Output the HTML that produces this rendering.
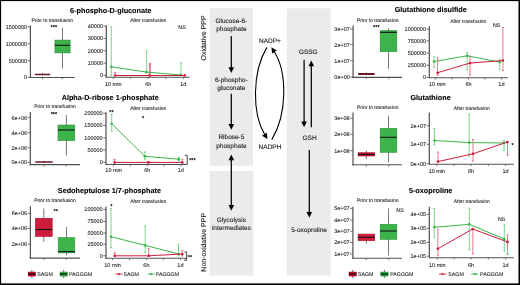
<!DOCTYPE html>
<html><head><meta charset="utf-8"><style>
html,body{margin:0;padding:0;background:#fff;width:520px;height:285px;overflow:hidden}
svg{display:block;will-change:transform}
text{font-family:"Liberation Sans", sans-serif;text-rendering:geometricPrecision}
</style></head><body>
<svg width="520" height="285" viewBox="0 0 520 285" font-family='"Liberation Sans", sans-serif'>
<rect width="520" height="285" fill="#fff"/>
<text x="70.10" y="12.57" font-size="7.25" text-anchor="start" font-weight="bold" fill="#000" stroke="#000" stroke-width="0.1" >6-phospho-D-gluconate</text>
<text x="52.20" y="21.96" font-size="4.95" text-anchor="middle" font-weight="normal" fill="#222" stroke="#222" stroke-width="0.08" >Prior to transfusion</text>
<text x="53.80" y="29.25" font-size="5.6" text-anchor="middle" fill="#111" stroke="#111" stroke-width="0.25">***</text>
<line x1="30.40" y1="25.50" x2="30.40" y2="78.10" stroke="#505050" stroke-width="1.2"/>
<line x1="27.60" y1="26.80" x2="30.40" y2="26.80" stroke="#505050" stroke-width="0.8"/>
<text x="27.10" y="28.75" font-size="5.50" text-anchor="end" font-weight="normal" fill="#1a1a1a" stroke="#1a1a1a" stroke-width="0.08" >1500000</text>
<line x1="27.60" y1="43.70" x2="30.40" y2="43.70" stroke="#505050" stroke-width="0.8"/>
<text x="27.10" y="45.65" font-size="5.50" text-anchor="end" font-weight="normal" fill="#1a1a1a" stroke="#1a1a1a" stroke-width="0.08" >1000000</text>
<line x1="27.60" y1="60.60" x2="30.40" y2="60.60" stroke="#505050" stroke-width="0.8"/>
<text x="27.10" y="62.55" font-size="5.50" text-anchor="end" font-weight="normal" fill="#1a1a1a" stroke="#1a1a1a" stroke-width="0.08" >500000</text>
<line x1="27.60" y1="77.40" x2="30.40" y2="77.40" stroke="#505050" stroke-width="0.8"/>
<text x="27.10" y="79.35" font-size="5.50" text-anchor="end" font-weight="normal" fill="#1a1a1a" stroke="#1a1a1a" stroke-width="0.08" >0</text>
<line x1="29.80" y1="77.50" x2="74.70" y2="77.50" stroke="#505050" stroke-width="1.1"/>
<line x1="42.50" y1="77.50" x2="42.50" y2="79.30" stroke="#505050" stroke-width="0.8"/>
<line x1="62.30" y1="77.50" x2="62.30" y2="79.30" stroke="#505050" stroke-width="0.8"/>
<line x1="42.50" y1="73.00" x2="42.50" y2="75.20" stroke="#555" stroke-width="0.8"/>
<rect x="34.80" y="73.70" width="15.40" height="1.50" rx="0.5" fill="#6e1426"/>
<line x1="62.50" y1="27.80" x2="62.50" y2="68.60" stroke="#555" stroke-width="0.8"/>
<rect x="54.90" y="40.10" width="15.20" height="12.80" fill="#3cb44b" stroke="#2a8f37" stroke-width="0.6"/>
<line x1="54.90" y1="45.30" x2="70.10" y2="45.30" stroke="#111" stroke-width="1.1"/>
<text x="148.30" y="22.46" font-size="4.95" text-anchor="middle" font-weight="normal" fill="#222" stroke="#222" stroke-width="0.08" >After transfusion</text>
<text x="182.00" y="28.68" font-size="5.30" text-anchor="middle" font-weight="normal" fill="#222" stroke="#222" stroke-width="0.08" >NS</text>
<line x1="106.30" y1="25.20" x2="106.30" y2="77.90" stroke="#505050" stroke-width="1.2"/>
<line x1="103.50" y1="26.20" x2="106.30" y2="26.20" stroke="#505050" stroke-width="0.8"/>
<text x="103.00" y="28.15" font-size="5.50" text-anchor="end" font-weight="normal" fill="#1a1a1a" stroke="#1a1a1a" stroke-width="0.08" >40000</text>
<line x1="103.50" y1="38.50" x2="106.30" y2="38.50" stroke="#505050" stroke-width="0.8"/>
<text x="103.00" y="40.45" font-size="5.50" text-anchor="end" font-weight="normal" fill="#1a1a1a" stroke="#1a1a1a" stroke-width="0.08" >30000</text>
<line x1="103.50" y1="50.80" x2="106.30" y2="50.80" stroke="#505050" stroke-width="0.8"/>
<text x="103.00" y="52.75" font-size="5.50" text-anchor="end" font-weight="normal" fill="#1a1a1a" stroke="#1a1a1a" stroke-width="0.08" >20000</text>
<line x1="103.50" y1="63.10" x2="106.30" y2="63.10" stroke="#505050" stroke-width="0.8"/>
<text x="103.00" y="65.05" font-size="5.50" text-anchor="end" font-weight="normal" fill="#1a1a1a" stroke="#1a1a1a" stroke-width="0.08" >10000</text>
<line x1="103.50" y1="75.40" x2="106.30" y2="75.40" stroke="#505050" stroke-width="0.8"/>
<text x="103.00" y="77.35" font-size="5.50" text-anchor="end" font-weight="normal" fill="#1a1a1a" stroke="#1a1a1a" stroke-width="0.08" >0</text>
<line x1="105.70" y1="77.30" x2="189.60" y2="77.30" stroke="#505050" stroke-width="1.1"/>
<line x1="113.20" y1="77.30" x2="113.20" y2="79.10" stroke="#505050" stroke-width="0.8"/>
<line x1="130.70" y1="77.30" x2="130.70" y2="79.10" stroke="#505050" stroke-width="0.8"/>
<line x1="148.20" y1="77.30" x2="148.20" y2="79.10" stroke="#505050" stroke-width="0.8"/>
<line x1="165.70" y1="77.30" x2="165.70" y2="79.10" stroke="#505050" stroke-width="0.8"/>
<line x1="183.20" y1="77.30" x2="183.20" y2="79.10" stroke="#505050" stroke-width="0.8"/>
<text x="113.20" y="86.05" font-size="5.50" text-anchor="middle" font-weight="normal" fill="#222" stroke="#222" stroke-width="0.08" >10 min</text>
<text x="148.20" y="86.05" font-size="5.50" text-anchor="middle" font-weight="normal" fill="#222" stroke="#222" stroke-width="0.08" >6h</text>
<text x="183.20" y="86.05" font-size="5.50" text-anchor="middle" font-weight="normal" fill="#222" stroke="#222" stroke-width="0.08" >1d</text>
<line x1="111.30" y1="26.80" x2="111.30" y2="75.60" stroke="#4cc35a" stroke-width="0.7"/>
<line x1="110.30" y1="26.80" x2="112.30" y2="26.80" stroke="#4cc35a" stroke-width="0.7"/>
<line x1="110.30" y1="75.60" x2="112.30" y2="75.60" stroke="#4cc35a" stroke-width="0.7"/>
<line x1="146.60" y1="51.00" x2="146.60" y2="72.10" stroke="#4cc35a" stroke-width="0.7"/>
<line x1="145.60" y1="51.00" x2="147.60" y2="51.00" stroke="#4cc35a" stroke-width="0.7"/>
<line x1="145.60" y1="72.10" x2="147.60" y2="72.10" stroke="#4cc35a" stroke-width="0.7"/>
<line x1="181.00" y1="62.90" x2="181.00" y2="75.20" stroke="#4cc35a" stroke-width="0.7"/>
<line x1="180.00" y1="62.90" x2="182.00" y2="62.90" stroke="#4cc35a" stroke-width="0.7"/>
<line x1="180.00" y1="75.20" x2="182.00" y2="75.20" stroke="#4cc35a" stroke-width="0.7"/>
<line x1="115.20" y1="72.40" x2="115.20" y2="75.50" stroke="#dc3d5c" stroke-width="0.7"/>
<line x1="114.20" y1="72.40" x2="116.20" y2="72.40" stroke="#dc3d5c" stroke-width="0.7"/>
<line x1="114.20" y1="75.50" x2="116.20" y2="75.50" stroke="#dc3d5c" stroke-width="0.7"/>
<line x1="149.90" y1="64.00" x2="149.90" y2="75.50" stroke="#e3798f" stroke-width="1.9"/>
<line x1="148.70" y1="64.00" x2="151.10" y2="64.00" stroke="#e3798f" stroke-width="1.9"/>
<line x1="148.70" y1="75.50" x2="151.10" y2="75.50" stroke="#e3798f" stroke-width="1.9"/>
<line x1="184.70" y1="74.30" x2="184.70" y2="75.50" stroke="#dc3d5c" stroke-width="0.7"/>
<line x1="183.70" y1="74.30" x2="185.70" y2="74.30" stroke="#dc3d5c" stroke-width="0.7"/>
<line x1="183.70" y1="75.50" x2="185.70" y2="75.50" stroke="#dc3d5c" stroke-width="0.7"/>
<polyline points="111.30,66.80 146.60,72.10 181.00,75.00" fill="none" stroke="#3cb44b" stroke-width="1.0"/>
<circle cx="111.30" cy="66.80" r="1.3" fill="#3cb44b"/>
<circle cx="146.60" cy="72.10" r="1.3" fill="#3cb44b"/>
<circle cx="181.00" cy="75.00" r="1.3" fill="#3cb44b"/>
<polyline points="115.20,75.50 149.50,75.50 184.70,75.50" fill="none" stroke="#d01c3c" stroke-width="1.0"/>
<circle cx="115.20" cy="75.50" r="1.3" fill="#d01c3c"/>
<circle cx="149.50" cy="75.50" r="1.3" fill="#d01c3c"/>
<circle cx="184.70" cy="75.50" r="1.3" fill="#d01c3c"/>
<text x="61.70" y="100.37" font-size="7.25" text-anchor="start" font-weight="bold" fill="#000" stroke="#000" stroke-width="0.1" >Alpha-D-ribose 1-phosphate</text>
<text x="55.00" y="108.46" font-size="4.95" text-anchor="middle" font-weight="normal" fill="#222" stroke="#222" stroke-width="0.08" >Prior to transfusion</text>
<text x="53.90" y="116.25" font-size="5.6" text-anchor="middle" fill="#111" stroke="#111" stroke-width="0.25">***</text>
<line x1="30.30" y1="111.90" x2="30.30" y2="165.20" stroke="#505050" stroke-width="1.2"/>
<line x1="27.50" y1="117.60" x2="30.30" y2="117.60" stroke="#505050" stroke-width="0.8"/>
<text x="27.00" y="119.55" font-size="5.50" text-anchor="end" font-weight="normal" fill="#1a1a1a" stroke="#1a1a1a" stroke-width="0.08" >6e+06</text>
<line x1="27.50" y1="132.70" x2="30.30" y2="132.70" stroke="#505050" stroke-width="0.8"/>
<text x="27.00" y="134.65" font-size="5.50" text-anchor="end" font-weight="normal" fill="#1a1a1a" stroke="#1a1a1a" stroke-width="0.08" >4e+06</text>
<line x1="27.50" y1="147.70" x2="30.30" y2="147.70" stroke="#505050" stroke-width="0.8"/>
<text x="27.00" y="149.65" font-size="5.50" text-anchor="end" font-weight="normal" fill="#1a1a1a" stroke="#1a1a1a" stroke-width="0.08" >2e+06</text>
<line x1="27.50" y1="162.40" x2="30.30" y2="162.40" stroke="#505050" stroke-width="0.8"/>
<text x="27.00" y="164.35" font-size="5.50" text-anchor="end" font-weight="normal" fill="#1a1a1a" stroke="#1a1a1a" stroke-width="0.08" >0e+00</text>
<line x1="29.70" y1="164.60" x2="80.00" y2="164.60" stroke="#505050" stroke-width="1.1"/>
<line x1="43.75" y1="164.60" x2="43.75" y2="166.40" stroke="#505050" stroke-width="0.8"/>
<line x1="66.25" y1="164.60" x2="66.25" y2="166.40" stroke="#505050" stroke-width="0.8"/>
<line x1="44.00" y1="160.80" x2="44.00" y2="163.20" stroke="#555" stroke-width="0.8"/>
<rect x="35.20" y="161.20" width="17.60" height="1.60" rx="0.5" fill="#6e1426"/>
<line x1="66.40" y1="115.00" x2="66.40" y2="155.60" stroke="#555" stroke-width="0.8"/>
<rect x="58.00" y="125.00" width="16.80" height="15.60" fill="#3cb44b" stroke="#2a8f37" stroke-width="0.6"/>
<line x1="58.00" y1="130.00" x2="74.80" y2="130.00" stroke="#111" stroke-width="1.1"/>
<text x="148.30" y="109.96" font-size="4.95" text-anchor="middle" font-weight="normal" fill="#222" stroke="#222" stroke-width="0.08" >After transfusion</text>
<text x="111.50" y="113.85" font-size="5.6" text-anchor="middle" fill="#111" stroke="#111" stroke-width="0.25">**</text>
<text x="143.10" y="119.85" font-size="5.6" text-anchor="middle" fill="#111" stroke="#111" stroke-width="0.25">*</text>
<line x1="106.00" y1="112.20" x2="106.00" y2="165.10" stroke="#505050" stroke-width="1.2"/>
<line x1="103.20" y1="113.30" x2="106.00" y2="113.30" stroke="#505050" stroke-width="0.8"/>
<text x="102.70" y="115.25" font-size="5.50" text-anchor="end" font-weight="normal" fill="#1a1a1a" stroke="#1a1a1a" stroke-width="0.08" >200000</text>
<line x1="103.20" y1="125.50" x2="106.00" y2="125.50" stroke="#505050" stroke-width="0.8"/>
<text x="102.70" y="127.45" font-size="5.50" text-anchor="end" font-weight="normal" fill="#1a1a1a" stroke="#1a1a1a" stroke-width="0.08" >150000</text>
<line x1="103.20" y1="137.80" x2="106.00" y2="137.80" stroke="#505050" stroke-width="0.8"/>
<text x="102.70" y="139.75" font-size="5.50" text-anchor="end" font-weight="normal" fill="#1a1a1a" stroke="#1a1a1a" stroke-width="0.08" >100000</text>
<line x1="103.20" y1="150.00" x2="106.00" y2="150.00" stroke="#505050" stroke-width="0.8"/>
<text x="102.70" y="151.95" font-size="5.50" text-anchor="end" font-weight="normal" fill="#1a1a1a" stroke="#1a1a1a" stroke-width="0.08" >50000</text>
<line x1="103.20" y1="162.30" x2="106.00" y2="162.30" stroke="#505050" stroke-width="0.8"/>
<text x="102.70" y="164.25" font-size="5.50" text-anchor="end" font-weight="normal" fill="#1a1a1a" stroke="#1a1a1a" stroke-width="0.08" >0</text>
<line x1="105.40" y1="164.50" x2="185.60" y2="164.50" stroke="#505050" stroke-width="1.1"/>
<line x1="113.60" y1="164.50" x2="113.60" y2="166.30" stroke="#505050" stroke-width="0.8"/>
<line x1="130.40" y1="164.50" x2="130.40" y2="166.30" stroke="#505050" stroke-width="0.8"/>
<line x1="147.20" y1="164.50" x2="147.20" y2="166.30" stroke="#505050" stroke-width="0.8"/>
<line x1="164.00" y1="164.50" x2="164.00" y2="166.30" stroke="#505050" stroke-width="0.8"/>
<line x1="180.80" y1="164.50" x2="180.80" y2="166.30" stroke="#505050" stroke-width="0.8"/>
<text x="113.60" y="172.45" font-size="5.50" text-anchor="middle" font-weight="normal" fill="#222" stroke="#222" stroke-width="0.08" >10 min</text>
<text x="147.20" y="172.45" font-size="5.50" text-anchor="middle" font-weight="normal" fill="#222" stroke="#222" stroke-width="0.08" >6h</text>
<text x="180.80" y="172.45" font-size="5.50" text-anchor="middle" font-weight="normal" fill="#222" stroke="#222" stroke-width="0.08" >1d</text>
<line x1="111.70" y1="114.30" x2="111.70" y2="131.10" stroke="#4cc35a" stroke-width="0.7"/>
<line x1="110.70" y1="114.30" x2="112.70" y2="114.30" stroke="#4cc35a" stroke-width="0.7"/>
<line x1="110.70" y1="131.10" x2="112.70" y2="131.10" stroke="#4cc35a" stroke-width="0.7"/>
<line x1="144.90" y1="151.90" x2="144.90" y2="159.20" stroke="#4cc35a" stroke-width="0.7"/>
<line x1="143.90" y1="151.90" x2="145.90" y2="151.90" stroke="#4cc35a" stroke-width="0.7"/>
<line x1="143.90" y1="159.20" x2="145.90" y2="159.20" stroke="#4cc35a" stroke-width="0.7"/>
<line x1="178.80" y1="157.50" x2="178.80" y2="161.00" stroke="#4cc35a" stroke-width="0.7"/>
<line x1="177.80" y1="157.50" x2="179.80" y2="157.50" stroke="#4cc35a" stroke-width="0.7"/>
<line x1="177.80" y1="161.00" x2="179.80" y2="161.00" stroke="#4cc35a" stroke-width="0.7"/>
<line x1="114.60" y1="159.40" x2="114.60" y2="163.00" stroke="#dc3d5c" stroke-width="0.7"/>
<line x1="113.60" y1="159.40" x2="115.60" y2="159.40" stroke="#dc3d5c" stroke-width="0.7"/>
<line x1="113.60" y1="163.00" x2="115.60" y2="163.00" stroke="#dc3d5c" stroke-width="0.7"/>
<line x1="148.50" y1="161.50" x2="148.50" y2="163.00" stroke="#dc3d5c" stroke-width="0.7"/>
<line x1="147.50" y1="161.50" x2="149.50" y2="161.50" stroke="#dc3d5c" stroke-width="0.7"/>
<line x1="147.50" y1="163.00" x2="149.50" y2="163.00" stroke="#dc3d5c" stroke-width="0.7"/>
<line x1="182.30" y1="159.50" x2="182.30" y2="163.00" stroke="#dc3d5c" stroke-width="0.7"/>
<line x1="181.30" y1="159.50" x2="183.30" y2="159.50" stroke="#dc3d5c" stroke-width="0.7"/>
<line x1="181.30" y1="163.00" x2="183.30" y2="163.00" stroke="#dc3d5c" stroke-width="0.7"/>
<polyline points="111.70,123.80 144.90,156.30 178.80,159.20" fill="none" stroke="#3cb44b" stroke-width="1.0"/>
<circle cx="111.70" cy="123.80" r="1.3" fill="#3cb44b"/>
<circle cx="144.90" cy="156.30" r="1.3" fill="#3cb44b"/>
<circle cx="178.80" cy="159.20" r="1.3" fill="#3cb44b"/>
<polyline points="114.60,162.40 148.50,162.40 182.30,162.40" fill="none" stroke="#d01c3c" stroke-width="1.0"/>
<circle cx="114.60" cy="162.40" r="1.3" fill="#d01c3c"/>
<circle cx="148.50" cy="162.40" r="1.3" fill="#d01c3c"/>
<circle cx="182.30" cy="162.40" r="1.3" fill="#d01c3c"/>
<polyline points="184.9,155.3 187.2,155.3 187.2,164.4 185.0,164.4" fill="none" stroke="#333" stroke-width="0.9"/>
<text x="192.40" y="162.05" font-size="5.6" text-anchor="middle" fill="#111" stroke="#111" stroke-width="0.25">***</text>
<text x="57.80" y="193.27" font-size="7.25" text-anchor="start" font-weight="bold" fill="#000" stroke="#000" stroke-width="0.1" >Sedoheptulose 1/7-phosphate</text>
<text x="55.00" y="202.36" font-size="4.95" text-anchor="middle" font-weight="normal" fill="#222" stroke="#222" stroke-width="0.08" >Prior to transfusion</text>
<text x="55.80" y="212.55" font-size="5.6" text-anchor="middle" fill="#111" stroke="#111" stroke-width="0.25">**</text>
<line x1="30.40" y1="206.20" x2="30.40" y2="258.70" stroke="#505050" stroke-width="1.2"/>
<line x1="27.60" y1="213.30" x2="30.40" y2="213.30" stroke="#505050" stroke-width="0.8"/>
<text x="27.10" y="215.25" font-size="5.50" text-anchor="end" font-weight="normal" fill="#1a1a1a" stroke="#1a1a1a" stroke-width="0.08" >6e+06</text>
<line x1="27.60" y1="228.50" x2="30.40" y2="228.50" stroke="#505050" stroke-width="0.8"/>
<text x="27.10" y="230.45" font-size="5.50" text-anchor="end" font-weight="normal" fill="#1a1a1a" stroke="#1a1a1a" stroke-width="0.08" >4e+06</text>
<line x1="27.60" y1="244.10" x2="30.40" y2="244.10" stroke="#505050" stroke-width="0.8"/>
<text x="27.10" y="246.05" font-size="5.50" text-anchor="end" font-weight="normal" fill="#1a1a1a" stroke="#1a1a1a" stroke-width="0.08" >2e+06</text>
<line x1="29.70" y1="258.10" x2="80.00" y2="258.10" stroke="#505050" stroke-width="1.1"/>
<line x1="43.75" y1="258.10" x2="43.75" y2="259.90" stroke="#505050" stroke-width="0.8"/>
<line x1="66.25" y1="258.10" x2="66.25" y2="259.90" stroke="#505050" stroke-width="0.8"/>
<line x1="43.80" y1="208.40" x2="43.80" y2="241.80" stroke="#555" stroke-width="0.8"/>
<rect x="35.40" y="218.30" width="16.80" height="18.20" fill="#d01c3c" stroke="#a80f2b" stroke-width="0.6"/>
<line x1="35.40" y1="229.50" x2="52.20" y2="229.50" stroke="#111" stroke-width="1.1"/>
<line x1="66.50" y1="227.00" x2="66.50" y2="255.00" stroke="#555" stroke-width="0.8"/>
<rect x="58.20" y="237.70" width="16.60" height="15.20" fill="#3cb44b" stroke="#2a8f37" stroke-width="0.6"/>
<line x1="58.20" y1="251.60" x2="74.80" y2="251.60" stroke="#111" stroke-width="1.1"/>
<text x="148.30" y="203.36" font-size="4.95" text-anchor="middle" font-weight="normal" fill="#222" stroke="#222" stroke-width="0.08" >After transfusion</text>
<text x="111.40" y="208.05" font-size="5.6" text-anchor="middle" fill="#111" stroke="#111" stroke-width="0.25">*</text>
<line x1="106.00" y1="206.50" x2="106.00" y2="258.90" stroke="#505050" stroke-width="1.2"/>
<line x1="103.20" y1="209.40" x2="106.00" y2="209.40" stroke="#505050" stroke-width="0.8"/>
<text x="102.70" y="211.35" font-size="5.50" text-anchor="end" font-weight="normal" fill="#1a1a1a" stroke="#1a1a1a" stroke-width="0.08" >100000</text>
<line x1="103.20" y1="221.50" x2="106.00" y2="221.50" stroke="#505050" stroke-width="0.8"/>
<text x="102.70" y="223.45" font-size="5.50" text-anchor="end" font-weight="normal" fill="#1a1a1a" stroke="#1a1a1a" stroke-width="0.08" >75000</text>
<line x1="103.20" y1="233.00" x2="106.00" y2="233.00" stroke="#505050" stroke-width="0.8"/>
<text x="102.70" y="234.95" font-size="5.50" text-anchor="end" font-weight="normal" fill="#1a1a1a" stroke="#1a1a1a" stroke-width="0.08" >50000</text>
<line x1="103.20" y1="244.30" x2="106.00" y2="244.30" stroke="#505050" stroke-width="0.8"/>
<text x="102.70" y="246.25" font-size="5.50" text-anchor="end" font-weight="normal" fill="#1a1a1a" stroke="#1a1a1a" stroke-width="0.08" >25000</text>
<line x1="103.20" y1="255.80" x2="106.00" y2="255.80" stroke="#505050" stroke-width="0.8"/>
<text x="102.70" y="257.75" font-size="5.50" text-anchor="end" font-weight="normal" fill="#1a1a1a" stroke="#1a1a1a" stroke-width="0.08" >0</text>
<line x1="105.40" y1="258.30" x2="187.20" y2="258.30" stroke="#505050" stroke-width="1.1"/>
<line x1="112.50" y1="258.30" x2="112.50" y2="260.10" stroke="#505050" stroke-width="0.8"/>
<line x1="129.50" y1="258.30" x2="129.50" y2="260.10" stroke="#505050" stroke-width="0.8"/>
<line x1="146.40" y1="258.30" x2="146.40" y2="260.10" stroke="#505050" stroke-width="0.8"/>
<line x1="163.40" y1="258.30" x2="163.40" y2="260.10" stroke="#505050" stroke-width="0.8"/>
<line x1="180.40" y1="258.30" x2="180.40" y2="260.10" stroke="#505050" stroke-width="0.8"/>
<text x="112.50" y="266.55" font-size="5.50" text-anchor="middle" font-weight="normal" fill="#222" stroke="#222" stroke-width="0.08" >10 min</text>
<text x="146.40" y="266.55" font-size="5.50" text-anchor="middle" font-weight="normal" fill="#222" stroke="#222" stroke-width="0.08" >6h</text>
<text x="180.40" y="266.55" font-size="5.50" text-anchor="middle" font-weight="normal" fill="#222" stroke="#222" stroke-width="0.08" >1d</text>
<line x1="111.00" y1="208.30" x2="111.00" y2="247.70" stroke="#4cc35a" stroke-width="0.7"/>
<line x1="110.00" y1="208.30" x2="112.00" y2="208.30" stroke="#4cc35a" stroke-width="0.7"/>
<line x1="110.00" y1="247.70" x2="112.00" y2="247.70" stroke="#4cc35a" stroke-width="0.7"/>
<line x1="145.20" y1="226.00" x2="145.20" y2="252.50" stroke="#4cc35a" stroke-width="0.7"/>
<line x1="144.20" y1="226.00" x2="146.20" y2="226.00" stroke="#4cc35a" stroke-width="0.7"/>
<line x1="144.20" y1="252.50" x2="146.20" y2="252.50" stroke="#4cc35a" stroke-width="0.7"/>
<line x1="178.50" y1="244.20" x2="178.50" y2="256.00" stroke="#4cc35a" stroke-width="0.7"/>
<line x1="177.50" y1="244.20" x2="179.50" y2="244.20" stroke="#4cc35a" stroke-width="0.7"/>
<line x1="177.50" y1="256.00" x2="179.50" y2="256.00" stroke="#4cc35a" stroke-width="0.7"/>
<line x1="114.80" y1="252.70" x2="114.80" y2="256.50" stroke="#dc3d5c" stroke-width="0.7"/>
<line x1="113.80" y1="252.70" x2="115.80" y2="252.70" stroke="#dc3d5c" stroke-width="0.7"/>
<line x1="113.80" y1="256.50" x2="115.80" y2="256.50" stroke="#dc3d5c" stroke-width="0.7"/>
<line x1="148.70" y1="248.70" x2="148.70" y2="256.50" stroke="#dc3d5c" stroke-width="0.7"/>
<line x1="147.70" y1="248.70" x2="149.70" y2="248.70" stroke="#dc3d5c" stroke-width="0.7"/>
<line x1="147.70" y1="256.50" x2="149.70" y2="256.50" stroke="#dc3d5c" stroke-width="0.7"/>
<line x1="182.30" y1="250.60" x2="182.30" y2="256.00" stroke="#dc3d5c" stroke-width="0.7"/>
<line x1="181.30" y1="250.60" x2="183.30" y2="250.60" stroke="#dc3d5c" stroke-width="0.7"/>
<line x1="181.30" y1="256.00" x2="183.30" y2="256.00" stroke="#dc3d5c" stroke-width="0.7"/>
<polyline points="111.00,236.70 145.20,245.40 178.80,254.00" fill="none" stroke="#3cb44b" stroke-width="1.0"/>
<circle cx="111.00" cy="236.70" r="1.3" fill="#3cb44b"/>
<circle cx="145.20" cy="245.40" r="1.3" fill="#3cb44b"/>
<circle cx="178.80" cy="254.00" r="1.3" fill="#3cb44b"/>
<polyline points="114.80,255.80 148.70,255.80 182.30,254.00" fill="none" stroke="#d01c3c" stroke-width="1.0"/>
<circle cx="114.80" cy="255.80" r="1.3" fill="#d01c3c"/>
<circle cx="148.70" cy="255.80" r="1.3" fill="#d01c3c"/>
<circle cx="182.30" cy="254.00" r="1.3" fill="#d01c3c"/>
<polyline points="184.4,251.9 186.6,251.9 186.6,260.2 184.0,260.2" fill="none" stroke="#333" stroke-width="0.9"/>
<text x="190.00" y="258.75" font-size="5.6" text-anchor="middle" fill="#111" stroke="#111" stroke-width="0.25">**</text>
<line x1="31.85" y1="269.80" x2="31.85" y2="278.00" stroke="#555" stroke-width="0.8"/>
<rect x="28.20" y="272.00" width="7.30" height="4.10" fill="#cc0a2a" stroke="#a80f2b" stroke-width="0.5"/>
<line x1="28.20" y1="274.05" x2="35.50" y2="274.05" stroke="#111" stroke-width="1.3"/>
<text x="37.30" y="275.96" font-size="5.25" text-anchor="start" font-weight="normal" fill="#222" stroke="#222" stroke-width="0.08" >SAGM</text>
<line x1="63.65" y1="269.80" x2="63.65" y2="278.00" stroke="#555" stroke-width="0.8"/>
<rect x="60.00" y="272.00" width="7.30" height="4.10" fill="#27b83c" stroke="#2a8f37" stroke-width="0.5"/>
<line x1="60.00" y1="274.05" x2="67.30" y2="274.05" stroke="#111" stroke-width="1.3"/>
<text x="69.00" y="275.96" font-size="5.25" text-anchor="start" font-weight="normal" fill="#222" stroke="#222" stroke-width="0.08" >PAGGGM</text>
<line x1="115.40" y1="274.10" x2="122.60" y2="274.10" stroke="#d01c3c" stroke-width="0.9"/>
<circle cx="119.00" cy="274.1" r="1.15" fill="#d01c3c"/>
<text x="123.50" y="275.96" font-size="5.25" text-anchor="start" font-weight="normal" fill="#222" stroke="#222" stroke-width="0.08" >SAGM</text>
<line x1="147.50" y1="274.10" x2="154.70" y2="274.10" stroke="#3cb44b" stroke-width="0.9"/>
<circle cx="151.10" cy="274.1" r="1.15" fill="#3cb44b"/>
<text x="155.80" y="275.96" font-size="5.25" text-anchor="start" font-weight="normal" fill="#222" stroke="#222" stroke-width="0.08" >PAGGGM</text>
<rect x="209.80" y="8.20" width="43.20" height="157.60" fill="#ebebeb"/>
<rect x="209.60" y="171.00" width="43.80" height="104.60" fill="#ebebeb"/>
<rect x="286.80" y="8.30" width="43.90" height="267.30" fill="#ebebeb"/>
<text x="231.40" y="23.11" font-size="6.50" text-anchor="middle" font-weight="normal" fill="#222" stroke="#222" stroke-width="0.12" >Glucose-6-</text>
<text x="231.40" y="30.91" font-size="6.50" text-anchor="middle" font-weight="normal" fill="#222" stroke="#222" stroke-width="0.12" >phosphate</text>
<text x="231.40" y="81.61" font-size="6.50" text-anchor="middle" font-weight="normal" fill="#222" stroke="#222" stroke-width="0.12" >6-phospho-</text>
<text x="231.40" y="89.91" font-size="6.50" text-anchor="middle" font-weight="normal" fill="#222" stroke="#222" stroke-width="0.12" >gluconate</text>
<text x="231.40" y="139.01" font-size="6.50" text-anchor="middle" font-weight="normal" fill="#222" stroke="#222" stroke-width="0.12" >Ribose-5</text>
<text x="231.40" y="147.61" font-size="6.50" text-anchor="middle" font-weight="normal" fill="#222" stroke="#222" stroke-width="0.12" >phosphate</text>
<text x="231.40" y="221.61" font-size="6.50" text-anchor="middle" font-weight="normal" fill="#222" stroke="#222" stroke-width="0.12" >Glycolysis</text>
<text x="231.40" y="229.91" font-size="6.50" text-anchor="middle" font-weight="normal" fill="#222" stroke="#222" stroke-width="0.12" >intermediates</text>
<text x="270.00" y="43.11" font-size="6.50" text-anchor="middle" font-weight="normal" fill="#222" stroke="#222" stroke-width="0.12" >NADP+</text>
<text x="270.00" y="148.91" font-size="6.50" text-anchor="middle" font-weight="normal" fill="#222" stroke="#222" stroke-width="0.12" >NADPH</text>
<text x="308.30" y="53.61" font-size="6.50" text-anchor="middle" font-weight="normal" fill="#222" stroke="#222" stroke-width="0.12" >GSSG</text>
<text x="309.60" y="139.91" font-size="6.50" text-anchor="middle" font-weight="normal" fill="#222" stroke="#222" stroke-width="0.12" >GSH</text>
<text x="309.10" y="232.01" font-size="6.50" text-anchor="middle" font-weight="normal" fill="#222" stroke="#222" stroke-width="0.12" >5-oxoproline</text>
<text transform="translate(206.4,38.0) rotate(-90)" font-size="7.0" text-anchor="middle" fill="#222" stroke="#222" stroke-width="0.12">Oxidative PPP</text>
<text transform="translate(206.4,242.3) rotate(-90)" font-size="7.0" text-anchor="middle" fill="#222" stroke="#222" stroke-width="0.12">Non-oxidative PPP</text>
<line x1="231.30" y1="36.10" x2="231.30" y2="68.00" stroke="#000" stroke-width="1.25"/>
<polygon points="228.50,67.20 234.10,67.20 231.30,73.00" fill="#000"/>
<line x1="231.30" y1="93.70" x2="231.30" y2="124.80" stroke="#000" stroke-width="1.25"/>
<polygon points="228.50,124.00 234.10,124.00 231.30,129.80" fill="#000"/>
<line x1="231.30" y1="182.00" x2="231.30" y2="159.40" stroke="#000" stroke-width="1.25"/>
<polygon points="228.50,160.20 234.10,160.20 231.30,154.40" fill="#000"/>
<line x1="231.30" y1="182.00" x2="231.30" y2="205.80" stroke="#000" stroke-width="1.25"/>
<polygon points="228.50,205.00 234.10,205.00 231.30,210.80" fill="#000"/>
<line x1="304.10" y1="59.70" x2="304.10" y2="122.30" stroke="#000" stroke-width="1.25"/>
<polygon points="301.30,121.50 306.90,121.50 304.10,127.30" fill="#000"/>
<line x1="311.30" y1="127.30" x2="311.30" y2="65.40" stroke="#000" stroke-width="1.25"/>
<polygon points="308.50,66.20 314.10,66.20 311.30,60.40" fill="#000"/>
<line x1="309.30" y1="150.10" x2="309.30" y2="212.70" stroke="#000" stroke-width="1.25"/>
<polygon points="306.50,211.90 312.10,211.90 309.30,217.70" fill="#000"/>
<path d="M266.9,47.4 C252.0,72 252.0,114 264.88,134.91" fill="none" stroke="#000" stroke-width="1.1"/>
<polygon points="262.08,135.70 266.85,132.76 267.40,139.00" fill="#000"/>
<path d="M271.8,139.6 C287.4,114 287.4,72 274.00,51.23" fill="none" stroke="#000" stroke-width="1.1"/>
<polygon points="276.79,50.39 272.08,53.42 271.40,47.20" fill="#000"/>
<text x="394.70" y="12.47" font-size="7.25" text-anchor="start" font-weight="bold" fill="#000" stroke="#000" stroke-width="0.1" >Glutathione disulfide</text>
<text x="377.70" y="21.96" font-size="4.95" text-anchor="middle" font-weight="normal" fill="#222" stroke="#222" stroke-width="0.08" >Prior to transfusion</text>
<text x="376.30" y="29.15" font-size="5.6" text-anchor="middle" fill="#111" stroke="#111" stroke-width="0.25">***</text>
<line x1="353.10" y1="25.60" x2="353.10" y2="78.00" stroke="#505050" stroke-width="1.2"/>
<line x1="350.30" y1="29.00" x2="353.10" y2="29.00" stroke="#505050" stroke-width="0.8"/>
<text x="349.80" y="30.95" font-size="5.50" text-anchor="end" font-weight="normal" fill="#1a1a1a" stroke="#1a1a1a" stroke-width="0.08" >3e+07</text>
<line x1="350.30" y1="44.60" x2="353.10" y2="44.60" stroke="#505050" stroke-width="0.8"/>
<text x="349.80" y="46.55" font-size="5.50" text-anchor="end" font-weight="normal" fill="#1a1a1a" stroke="#1a1a1a" stroke-width="0.08" >2e+07</text>
<line x1="350.30" y1="60.80" x2="353.10" y2="60.80" stroke="#505050" stroke-width="0.8"/>
<text x="349.80" y="62.75" font-size="5.50" text-anchor="end" font-weight="normal" fill="#1a1a1a" stroke="#1a1a1a" stroke-width="0.08" >1e+07</text>
<line x1="350.30" y1="77.00" x2="353.10" y2="77.00" stroke="#505050" stroke-width="0.8"/>
<text x="349.80" y="78.95" font-size="5.50" text-anchor="end" font-weight="normal" fill="#1a1a1a" stroke="#1a1a1a" stroke-width="0.08" >0e+00</text>
<line x1="352.40" y1="77.40" x2="402.10" y2="77.40" stroke="#505050" stroke-width="1.1"/>
<line x1="366.30" y1="77.40" x2="366.30" y2="79.20" stroke="#505050" stroke-width="0.8"/>
<line x1="388.70" y1="77.40" x2="388.70" y2="79.20" stroke="#505050" stroke-width="0.8"/>
<line x1="366.40" y1="72.60" x2="366.40" y2="74.80" stroke="#555" stroke-width="0.8"/>
<rect x="358.10" y="73.10" width="16.60" height="1.80" rx="0.5" fill="#6e1426"/>
<line x1="388.50" y1="28.30" x2="388.50" y2="68.70" stroke="#555" stroke-width="0.8"/>
<rect x="380.20" y="30.70" width="16.60" height="21.00" fill="#3cb44b" stroke="#2a8f37" stroke-width="0.6"/>
<line x1="380.20" y1="32.30" x2="396.80" y2="32.30" stroke="#111" stroke-width="1.1"/>
<text x="468.30" y="22.66" font-size="4.95" text-anchor="middle" font-weight="normal" fill="#222" stroke="#222" stroke-width="0.08" >After transfusion</text>
<text x="496.70" y="26.88" font-size="5.30" text-anchor="middle" font-weight="normal" fill="#222" stroke="#222" stroke-width="0.08" >NS</text>
<line x1="429.30" y1="26.20" x2="429.30" y2="78.30" stroke="#505050" stroke-width="1.2"/>
<line x1="426.50" y1="29.00" x2="429.30" y2="29.00" stroke="#505050" stroke-width="0.8"/>
<text x="426.00" y="30.95" font-size="5.50" text-anchor="end" font-weight="normal" fill="#1a1a1a" stroke="#1a1a1a" stroke-width="0.08" >1000000</text>
<line x1="426.50" y1="41.00" x2="429.30" y2="41.00" stroke="#505050" stroke-width="0.8"/>
<text x="426.00" y="42.95" font-size="5.50" text-anchor="end" font-weight="normal" fill="#1a1a1a" stroke="#1a1a1a" stroke-width="0.08" >750000</text>
<line x1="426.50" y1="53.00" x2="429.30" y2="53.00" stroke="#505050" stroke-width="0.8"/>
<text x="426.00" y="54.95" font-size="5.50" text-anchor="end" font-weight="normal" fill="#1a1a1a" stroke="#1a1a1a" stroke-width="0.08" >500000</text>
<line x1="426.50" y1="65.20" x2="429.30" y2="65.20" stroke="#505050" stroke-width="0.8"/>
<text x="426.00" y="67.15" font-size="5.50" text-anchor="end" font-weight="normal" fill="#1a1a1a" stroke="#1a1a1a" stroke-width="0.08" >250000</text>
<line x1="426.50" y1="77.30" x2="429.30" y2="77.30" stroke="#505050" stroke-width="0.8"/>
<text x="426.00" y="79.25" font-size="5.50" text-anchor="end" font-weight="normal" fill="#1a1a1a" stroke="#1a1a1a" stroke-width="0.08" >0</text>
<line x1="429.00" y1="77.70" x2="508.10" y2="77.70" stroke="#505050" stroke-width="1.1"/>
<line x1="435.40" y1="77.70" x2="435.40" y2="79.50" stroke="#505050" stroke-width="0.8"/>
<line x1="452.00" y1="77.70" x2="452.00" y2="79.50" stroke="#505050" stroke-width="0.8"/>
<line x1="468.30" y1="77.70" x2="468.30" y2="79.50" stroke="#505050" stroke-width="0.8"/>
<line x1="485.00" y1="77.70" x2="485.00" y2="79.50" stroke="#505050" stroke-width="0.8"/>
<line x1="501.40" y1="77.70" x2="501.40" y2="79.50" stroke="#505050" stroke-width="0.8"/>
<text x="437.30" y="85.95" font-size="5.50" text-anchor="middle" font-weight="normal" fill="#222" stroke="#222" stroke-width="0.08" >10 min</text>
<text x="468.50" y="85.95" font-size="5.50" text-anchor="middle" font-weight="normal" fill="#222" stroke="#222" stroke-width="0.08" >6h</text>
<text x="501.40" y="85.95" font-size="5.50" text-anchor="middle" font-weight="normal" fill="#222" stroke="#222" stroke-width="0.08" >1d</text>
<line x1="434.00" y1="56.80" x2="434.00" y2="67.40" stroke="#4cc35a" stroke-width="0.7"/>
<line x1="433.00" y1="56.80" x2="435.00" y2="56.80" stroke="#4cc35a" stroke-width="0.7"/>
<line x1="433.00" y1="67.40" x2="435.00" y2="67.40" stroke="#4cc35a" stroke-width="0.7"/>
<line x1="467.10" y1="52.60" x2="467.10" y2="69.90" stroke="#4cc35a" stroke-width="0.7"/>
<line x1="466.10" y1="52.60" x2="468.10" y2="52.60" stroke="#4cc35a" stroke-width="0.7"/>
<line x1="466.10" y1="69.90" x2="468.10" y2="69.90" stroke="#4cc35a" stroke-width="0.7"/>
<line x1="499.70" y1="60.00" x2="499.70" y2="69.50" stroke="#4cc35a" stroke-width="0.7"/>
<line x1="498.70" y1="60.00" x2="500.70" y2="60.00" stroke="#4cc35a" stroke-width="0.7"/>
<line x1="498.70" y1="69.50" x2="500.70" y2="69.50" stroke="#4cc35a" stroke-width="0.7"/>
<line x1="437.60" y1="57.90" x2="437.60" y2="75.20" stroke="#dc3d5c" stroke-width="0.7"/>
<line x1="436.60" y1="57.90" x2="438.60" y2="57.90" stroke="#dc3d5c" stroke-width="0.7"/>
<line x1="436.60" y1="75.20" x2="438.60" y2="75.20" stroke="#dc3d5c" stroke-width="0.7"/>
<line x1="470.00" y1="56.20" x2="470.00" y2="75.20" stroke="#dc3d5c" stroke-width="0.7"/>
<line x1="469.00" y1="56.20" x2="471.00" y2="56.20" stroke="#dc3d5c" stroke-width="0.7"/>
<line x1="469.00" y1="75.20" x2="471.00" y2="75.20" stroke="#dc3d5c" stroke-width="0.7"/>
<line x1="502.90" y1="27.40" x2="502.90" y2="70.50" stroke="#dc3d5c" stroke-width="0.7"/>
<line x1="501.90" y1="27.40" x2="503.90" y2="27.40" stroke="#dc3d5c" stroke-width="0.7"/>
<line x1="501.90" y1="70.50" x2="503.90" y2="70.50" stroke="#dc3d5c" stroke-width="0.7"/>
<polyline points="434.00,61.50 467.10,55.80 499.70,62.10" fill="none" stroke="#3cb44b" stroke-width="1.0"/>
<circle cx="434.00" cy="61.50" r="1.3" fill="#3cb44b"/>
<circle cx="467.10" cy="55.80" r="1.3" fill="#3cb44b"/>
<circle cx="499.70" cy="62.10" r="1.3" fill="#3cb44b"/>
<polyline points="437.60,72.70 470.00,63.10 502.90,60.50" fill="none" stroke="#d01c3c" stroke-width="1.0"/>
<circle cx="437.60" cy="72.70" r="1.3" fill="#d01c3c"/>
<circle cx="470.00" cy="63.10" r="1.3" fill="#d01c3c"/>
<circle cx="502.90" cy="60.50" r="1.3" fill="#d01c3c"/>
<text x="410.40" y="100.37" font-size="7.25" text-anchor="start" font-weight="bold" fill="#000" stroke="#000" stroke-width="0.1" >Glutathione</text>
<text x="377.70" y="108.96" font-size="4.95" text-anchor="middle" font-weight="normal" fill="#222" stroke="#222" stroke-width="0.08" >Prior to transfusion</text>
<line x1="353.00" y1="112.50" x2="353.00" y2="165.40" stroke="#505050" stroke-width="1.2"/>
<line x1="350.20" y1="118.30" x2="353.00" y2="118.30" stroke="#505050" stroke-width="0.8"/>
<text x="349.70" y="120.25" font-size="5.50" text-anchor="end" font-weight="normal" fill="#1a1a1a" stroke="#1a1a1a" stroke-width="0.08" >3e+08</text>
<line x1="350.20" y1="134.30" x2="353.00" y2="134.30" stroke="#505050" stroke-width="0.8"/>
<text x="349.70" y="136.25" font-size="5.50" text-anchor="end" font-weight="normal" fill="#1a1a1a" stroke="#1a1a1a" stroke-width="0.08" >2e+08</text>
<line x1="350.20" y1="150.70" x2="353.00" y2="150.70" stroke="#505050" stroke-width="0.8"/>
<text x="349.70" y="152.65" font-size="5.50" text-anchor="end" font-weight="normal" fill="#1a1a1a" stroke="#1a1a1a" stroke-width="0.08" >1e+08</text>
<line x1="352.30" y1="164.80" x2="402.10" y2="164.80" stroke="#505050" stroke-width="1.1"/>
<line x1="366.30" y1="164.80" x2="366.30" y2="166.60" stroke="#505050" stroke-width="0.8"/>
<line x1="388.70" y1="164.80" x2="388.70" y2="166.60" stroke="#505050" stroke-width="0.8"/>
<line x1="366.40" y1="150.70" x2="366.40" y2="159.00" stroke="#555" stroke-width="0.8"/>
<rect x="358.10" y="152.70" width="16.60" height="3.30" fill="#d01c3c" stroke="#a80f2b" stroke-width="0.6"/>
<line x1="358.10" y1="154.40" x2="374.70" y2="154.40" stroke="#111" stroke-width="1.1"/>
<line x1="388.50" y1="115.70" x2="388.50" y2="162.30" stroke="#555" stroke-width="0.8"/>
<rect x="380.20" y="128.30" width="16.60" height="24.00" fill="#3cb44b" stroke="#2a8f37" stroke-width="0.6"/>
<line x1="380.20" y1="137.30" x2="396.80" y2="137.30" stroke="#111" stroke-width="1.1"/>
<text x="471.70" y="109.96" font-size="4.95" text-anchor="middle" font-weight="normal" fill="#222" stroke="#222" stroke-width="0.08" >After transfusion</text>
<line x1="429.30" y1="112.50" x2="429.30" y2="164.80" stroke="#505050" stroke-width="1.2"/>
<line x1="426.50" y1="125.70" x2="429.30" y2="125.70" stroke="#505050" stroke-width="0.8"/>
<text x="426.00" y="127.65" font-size="5.50" text-anchor="end" font-weight="normal" fill="#1a1a1a" stroke="#1a1a1a" stroke-width="0.08" >2e+07</text>
<line x1="426.50" y1="144.30" x2="429.30" y2="144.30" stroke="#505050" stroke-width="0.8"/>
<text x="426.00" y="146.25" font-size="5.50" text-anchor="end" font-weight="normal" fill="#1a1a1a" stroke="#1a1a1a" stroke-width="0.08" >1e+07</text>
<line x1="426.50" y1="163.70" x2="429.30" y2="163.70" stroke="#505050" stroke-width="0.8"/>
<text x="426.00" y="165.65" font-size="5.50" text-anchor="end" font-weight="normal" fill="#1a1a1a" stroke="#1a1a1a" stroke-width="0.08" >0e+00</text>
<line x1="429.00" y1="164.20" x2="513.70" y2="164.20" stroke="#505050" stroke-width="1.1"/>
<line x1="436.90" y1="164.20" x2="436.90" y2="166.00" stroke="#505050" stroke-width="0.8"/>
<line x1="453.90" y1="164.20" x2="453.90" y2="166.00" stroke="#505050" stroke-width="0.8"/>
<line x1="471.00" y1="164.20" x2="471.00" y2="166.00" stroke="#505050" stroke-width="0.8"/>
<line x1="488.30" y1="164.20" x2="488.30" y2="166.00" stroke="#505050" stroke-width="0.8"/>
<line x1="505.60" y1="164.20" x2="505.60" y2="166.00" stroke="#505050" stroke-width="0.8"/>
<text x="436.90" y="172.55" font-size="5.50" text-anchor="middle" font-weight="normal" fill="#222" stroke="#222" stroke-width="0.08" >10 min</text>
<text x="471.00" y="172.55" font-size="5.50" text-anchor="middle" font-weight="normal" fill="#222" stroke="#222" stroke-width="0.08" >6h</text>
<text x="505.60" y="172.55" font-size="5.50" text-anchor="middle" font-weight="normal" fill="#222" stroke="#222" stroke-width="0.08" >1d</text>
<line x1="434.40" y1="128.50" x2="434.40" y2="144.70" stroke="#4cc35a" stroke-width="0.7"/>
<line x1="433.40" y1="128.50" x2="435.40" y2="128.50" stroke="#4cc35a" stroke-width="0.7"/>
<line x1="433.40" y1="144.70" x2="435.40" y2="144.70" stroke="#4cc35a" stroke-width="0.7"/>
<line x1="469.20" y1="114.20" x2="469.20" y2="156.30" stroke="#4cc35a" stroke-width="0.7"/>
<line x1="468.20" y1="114.20" x2="470.20" y2="114.20" stroke="#4cc35a" stroke-width="0.7"/>
<line x1="468.20" y1="156.30" x2="470.20" y2="156.30" stroke="#4cc35a" stroke-width="0.7"/>
<line x1="504.00" y1="140.50" x2="504.00" y2="150.40" stroke="#4cc35a" stroke-width="0.7"/>
<line x1="503.00" y1="140.50" x2="505.00" y2="140.50" stroke="#4cc35a" stroke-width="0.7"/>
<line x1="503.00" y1="150.40" x2="505.00" y2="150.40" stroke="#4cc35a" stroke-width="0.7"/>
<line x1="438.00" y1="152.10" x2="438.00" y2="161.80" stroke="#dc3d5c" stroke-width="0.7"/>
<line x1="437.00" y1="152.10" x2="439.00" y2="152.10" stroke="#dc3d5c" stroke-width="0.7"/>
<line x1="437.00" y1="161.80" x2="439.00" y2="161.80" stroke="#dc3d5c" stroke-width="0.7"/>
<line x1="473.00" y1="139.50" x2="473.00" y2="161.00" stroke="#dc3d5c" stroke-width="0.7"/>
<line x1="472.00" y1="139.50" x2="474.00" y2="139.50" stroke="#dc3d5c" stroke-width="0.7"/>
<line x1="472.00" y1="161.00" x2="474.00" y2="161.00" stroke="#dc3d5c" stroke-width="0.7"/>
<line x1="507.50" y1="142.00" x2="507.50" y2="155.30" stroke="#dc3d5c" stroke-width="0.7"/>
<line x1="506.50" y1="142.00" x2="508.50" y2="142.00" stroke="#dc3d5c" stroke-width="0.7"/>
<line x1="506.50" y1="155.30" x2="508.50" y2="155.30" stroke="#dc3d5c" stroke-width="0.7"/>
<polyline points="434.40,140.50 469.20,142.60 504.00,143.00" fill="none" stroke="#3cb44b" stroke-width="1.0"/>
<circle cx="434.40" cy="140.50" r="1.3" fill="#3cb44b"/>
<circle cx="469.20" cy="142.60" r="1.3" fill="#3cb44b"/>
<circle cx="504.00" cy="143.00" r="1.3" fill="#3cb44b"/>
<polyline points="438.00,161.60 473.00,153.80 507.50,142.00" fill="none" stroke="#d01c3c" stroke-width="1.0"/>
<circle cx="438.00" cy="161.60" r="1.3" fill="#d01c3c"/>
<circle cx="473.00" cy="153.80" r="1.3" fill="#d01c3c"/>
<circle cx="507.50" cy="142.00" r="1.3" fill="#d01c3c"/>
<text x="512.70" y="146.65" font-size="5.6" text-anchor="middle" fill="#111" stroke="#111" stroke-width="0.25">*</text>
<text x="408.90" y="193.27" font-size="7.25" text-anchor="start" font-weight="bold" fill="#000" stroke="#000" stroke-width="0.1" >5-oxoproline</text>
<text x="377.70" y="202.36" font-size="4.95" text-anchor="middle" font-weight="normal" fill="#222" stroke="#222" stroke-width="0.08" >Prior to transfusion</text>
<text x="400.00" y="211.88" font-size="5.30" text-anchor="middle" font-weight="normal" fill="#222" stroke="#222" stroke-width="0.08" >NS</text>
<line x1="352.90" y1="206.70" x2="352.90" y2="258.90" stroke="#505050" stroke-width="1.2"/>
<line x1="350.10" y1="208.30" x2="352.90" y2="208.30" stroke="#505050" stroke-width="0.8"/>
<text x="349.60" y="210.25" font-size="5.50" text-anchor="end" font-weight="normal" fill="#1a1a1a" stroke="#1a1a1a" stroke-width="0.08" >5e+07</text>
<line x1="350.10" y1="220.00" x2="352.90" y2="220.00" stroke="#505050" stroke-width="0.8"/>
<text x="349.60" y="221.95" font-size="5.50" text-anchor="end" font-weight="normal" fill="#1a1a1a" stroke="#1a1a1a" stroke-width="0.08" >4e+07</text>
<line x1="350.10" y1="231.20" x2="352.90" y2="231.20" stroke="#505050" stroke-width="0.8"/>
<text x="349.60" y="233.15" font-size="5.50" text-anchor="end" font-weight="normal" fill="#1a1a1a" stroke="#1a1a1a" stroke-width="0.08" >3e+07</text>
<line x1="350.10" y1="242.50" x2="352.90" y2="242.50" stroke="#505050" stroke-width="0.8"/>
<text x="349.60" y="244.45" font-size="5.50" text-anchor="end" font-weight="normal" fill="#1a1a1a" stroke="#1a1a1a" stroke-width="0.08" >2e+07</text>
<line x1="350.10" y1="254.00" x2="352.90" y2="254.00" stroke="#505050" stroke-width="0.8"/>
<text x="349.60" y="255.95" font-size="5.50" text-anchor="end" font-weight="normal" fill="#1a1a1a" stroke="#1a1a1a" stroke-width="0.08" >1e+07</text>
<line x1="352.30" y1="258.30" x2="402.10" y2="258.30" stroke="#505050" stroke-width="1.1"/>
<line x1="366.30" y1="258.30" x2="366.30" y2="260.10" stroke="#505050" stroke-width="0.8"/>
<line x1="388.70" y1="258.30" x2="388.70" y2="260.10" stroke="#505050" stroke-width="0.8"/>
<line x1="366.40" y1="233.80" x2="366.40" y2="243.50" stroke="#555" stroke-width="0.8"/>
<rect x="358.10" y="234.10" width="16.60" height="6.60" fill="#d01c3c" stroke="#a80f2b" stroke-width="0.6"/>
<line x1="358.10" y1="237.30" x2="374.70" y2="237.30" stroke="#111" stroke-width="1.1"/>
<line x1="388.50" y1="208.30" x2="388.50" y2="255.70" stroke="#555" stroke-width="0.8"/>
<rect x="380.20" y="224.30" width="16.60" height="15.00" fill="#3cb44b" stroke="#2a8f37" stroke-width="0.6"/>
<line x1="380.20" y1="231.00" x2="396.80" y2="231.00" stroke="#111" stroke-width="1.1"/>
<text x="471.70" y="203.36" font-size="4.95" text-anchor="middle" font-weight="normal" fill="#222" stroke="#222" stroke-width="0.08" >After transfusion</text>
<text x="501.70" y="220.88" font-size="5.30" text-anchor="middle" font-weight="normal" fill="#222" stroke="#222" stroke-width="0.08" >NS</text>
<line x1="429.30" y1="206.70" x2="429.30" y2="258.30" stroke="#505050" stroke-width="1.2"/>
<line x1="426.50" y1="214.30" x2="429.30" y2="214.30" stroke="#505050" stroke-width="0.8"/>
<text x="426.00" y="216.25" font-size="5.50" text-anchor="end" font-weight="normal" fill="#1a1a1a" stroke="#1a1a1a" stroke-width="0.08" >4e+05</text>
<line x1="426.50" y1="228.30" x2="429.30" y2="228.30" stroke="#505050" stroke-width="0.8"/>
<text x="426.00" y="230.25" font-size="5.50" text-anchor="end" font-weight="normal" fill="#1a1a1a" stroke="#1a1a1a" stroke-width="0.08" >3e+05</text>
<line x1="426.50" y1="242.30" x2="429.30" y2="242.30" stroke="#505050" stroke-width="0.8"/>
<text x="426.00" y="244.25" font-size="5.50" text-anchor="end" font-weight="normal" fill="#1a1a1a" stroke="#1a1a1a" stroke-width="0.08" >2e+05</text>
<line x1="426.50" y1="256.20" x2="429.30" y2="256.20" stroke="#505050" stroke-width="0.8"/>
<text x="426.00" y="258.15" font-size="5.50" text-anchor="end" font-weight="normal" fill="#1a1a1a" stroke="#1a1a1a" stroke-width="0.08" >1e+05</text>
<line x1="429.00" y1="257.70" x2="513.70" y2="257.70" stroke="#505050" stroke-width="1.1"/>
<line x1="437.30" y1="257.70" x2="437.30" y2="259.50" stroke="#505050" stroke-width="0.8"/>
<line x1="454.20" y1="257.70" x2="454.20" y2="259.50" stroke="#505050" stroke-width="0.8"/>
<line x1="471.00" y1="257.70" x2="471.00" y2="259.50" stroke="#505050" stroke-width="0.8"/>
<line x1="488.30" y1="257.70" x2="488.30" y2="259.50" stroke="#505050" stroke-width="0.8"/>
<line x1="505.60" y1="257.70" x2="505.60" y2="259.50" stroke="#505050" stroke-width="0.8"/>
<text x="437.30" y="266.55" font-size="5.50" text-anchor="middle" font-weight="normal" fill="#222" stroke="#222" stroke-width="0.08" >10 min</text>
<text x="471.00" y="266.55" font-size="5.50" text-anchor="middle" font-weight="normal" fill="#222" stroke="#222" stroke-width="0.08" >6h</text>
<text x="505.60" y="266.55" font-size="5.50" text-anchor="middle" font-weight="normal" fill="#222" stroke="#222" stroke-width="0.08" >1d</text>
<line x1="434.30" y1="208.50" x2="434.30" y2="237.30" stroke="#4cc35a" stroke-width="0.7"/>
<line x1="433.30" y1="208.50" x2="435.30" y2="208.50" stroke="#4cc35a" stroke-width="0.7"/>
<line x1="433.30" y1="237.30" x2="435.30" y2="237.30" stroke="#4cc35a" stroke-width="0.7"/>
<line x1="469.30" y1="208.30" x2="469.30" y2="249.60" stroke="#4cc35a" stroke-width="0.7"/>
<line x1="468.30" y1="208.30" x2="470.30" y2="208.30" stroke="#4cc35a" stroke-width="0.7"/>
<line x1="468.30" y1="249.60" x2="470.30" y2="249.60" stroke="#4cc35a" stroke-width="0.7"/>
<line x1="504.30" y1="224.30" x2="504.30" y2="251.20" stroke="#4cc35a" stroke-width="0.7"/>
<line x1="503.30" y1="224.30" x2="505.30" y2="224.30" stroke="#4cc35a" stroke-width="0.7"/>
<line x1="503.30" y1="251.20" x2="505.30" y2="251.20" stroke="#4cc35a" stroke-width="0.7"/>
<line x1="437.90" y1="229.30" x2="437.90" y2="255.80" stroke="#dc3d5c" stroke-width="0.7"/>
<line x1="436.90" y1="229.30" x2="438.90" y2="229.30" stroke="#dc3d5c" stroke-width="0.7"/>
<line x1="436.90" y1="255.80" x2="438.90" y2="255.80" stroke="#dc3d5c" stroke-width="0.7"/>
<line x1="472.90" y1="229.00" x2="472.90" y2="253.80" stroke="#dc3d5c" stroke-width="0.7"/>
<line x1="471.90" y1="229.00" x2="473.90" y2="229.00" stroke="#dc3d5c" stroke-width="0.7"/>
<line x1="471.90" y1="253.80" x2="473.90" y2="253.80" stroke="#dc3d5c" stroke-width="0.7"/>
<line x1="507.50" y1="235.00" x2="507.50" y2="254.40" stroke="#dc3d5c" stroke-width="0.7"/>
<line x1="506.50" y1="235.00" x2="508.50" y2="235.00" stroke="#dc3d5c" stroke-width="0.7"/>
<line x1="506.50" y1="254.40" x2="508.50" y2="254.40" stroke="#dc3d5c" stroke-width="0.7"/>
<polyline points="434.30,227.30 469.30,224.30 504.30,239.00" fill="none" stroke="#3cb44b" stroke-width="1.0"/>
<circle cx="434.30" cy="227.30" r="1.3" fill="#3cb44b"/>
<circle cx="469.30" cy="224.30" r="1.3" fill="#3cb44b"/>
<circle cx="504.30" cy="239.00" r="1.3" fill="#3cb44b"/>
<polyline points="437.90,248.70 472.70,229.00 507.50,241.90" fill="none" stroke="#d01c3c" stroke-width="1.0"/>
<circle cx="437.90" cy="248.70" r="1.3" fill="#d01c3c"/>
<circle cx="472.70" cy="229.00" r="1.3" fill="#d01c3c"/>
<circle cx="507.50" cy="241.90" r="1.3" fill="#d01c3c"/>
<line x1="352.65" y1="269.80" x2="352.65" y2="278.00" stroke="#555" stroke-width="0.8"/>
<rect x="349.00" y="272.00" width="7.30" height="4.10" fill="#cc0a2a" stroke="#a80f2b" stroke-width="0.5"/>
<line x1="349.00" y1="274.05" x2="356.30" y2="274.05" stroke="#111" stroke-width="1.3"/>
<text x="358.00" y="275.96" font-size="5.25" text-anchor="start" font-weight="normal" fill="#222" stroke="#222" stroke-width="0.08" >SAGM</text>
<line x1="384.45" y1="269.80" x2="384.45" y2="278.00" stroke="#555" stroke-width="0.8"/>
<rect x="380.80" y="272.00" width="7.30" height="4.10" fill="#27b83c" stroke="#2a8f37" stroke-width="0.5"/>
<line x1="380.80" y1="274.05" x2="388.10" y2="274.05" stroke="#111" stroke-width="1.3"/>
<text x="390.20" y="275.96" font-size="5.25" text-anchor="start" font-weight="normal" fill="#222" stroke="#222" stroke-width="0.08" >PAGGGM</text>
<line x1="439.00" y1="274.10" x2="446.20" y2="274.10" stroke="#d01c3c" stroke-width="0.9"/>
<circle cx="442.60" cy="274.1" r="1.15" fill="#d01c3c"/>
<text x="448.30" y="275.96" font-size="5.25" text-anchor="start" font-weight="normal" fill="#222" stroke="#222" stroke-width="0.08" >SAGM</text>
<line x1="471.20" y1="274.10" x2="478.40" y2="274.10" stroke="#3cb44b" stroke-width="0.9"/>
<circle cx="474.80" cy="274.1" r="1.15" fill="#3cb44b"/>
<text x="480.10" y="275.96" font-size="5.25" text-anchor="start" font-weight="normal" fill="#222" stroke="#222" stroke-width="0.08" >PAGGGM</text>
<rect x="0.00" y="0.00" width="520.00" height="1.10" fill="#000"/>
<rect x="0.00" y="0.00" width="1.10" height="285.00" fill="#000"/>
<rect x="518.50" y="0.00" width="1.50" height="285.00" fill="#000"/>
<rect x="0.00" y="283.40" width="520.00" height="1.60" fill="#000"/>
</svg>
</body></html>
